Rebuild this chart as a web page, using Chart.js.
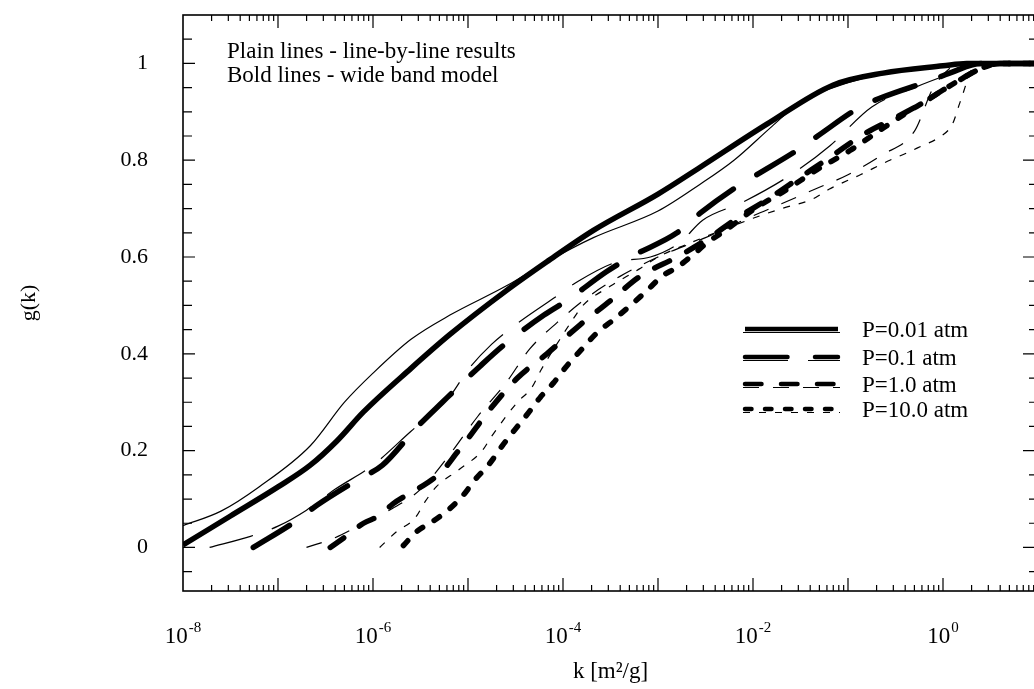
<!DOCTYPE html>
<html>
<head>
<meta charset="utf-8">
<script src="https://cdn.jsdelivr.net/npm/chart.js@4.4.0/dist/chart.umd.min.js"></script>
<style>
html, body { margin: 0; padding: 0; overflow: hidden; background: #fff; }
#wrap { width: 1040px; height: 689px; }
</style>
</head>
<body>
<div id="wrap"><canvas id="gk"></canvas></div>
<script>
// log10(k) and g(k)

// P=0.01 atm
var boldP001LogK = [-8, -7.5, -7, -6.66, -6.38, -6.1, -5.6, -5.19, -4.6, -4.17, -3.68, -3, -2.56, -1.85, -1.16, -0.63, 0, 0.25, 1];
var boldP001G = [0.005, 0.065, 0.125, 0.17, 0.22, 0.28, 0.37, 0.44, 0.53, 0.59, 0.655, 0.73, 0.785, 0.875, 0.955, 0.98, 0.995, 1.0, 1.0];
var thinP001LogK = [-8, -7.6, -7.2, -6.66, -6.3, -6, -5.6, -5.19, -4.6, -4.17, -3.68, -3, -2.56, -2.2, -1.8, -1.5, -1, -0.5, 0, 1];
var thinP001G = [0.045, 0.075, 0.125, 0.21, 0.3, 0.36, 0.43, 0.48, 0.54, 0.59, 0.64, 0.695, 0.75, 0.8, 0.87, 0.92, 0.96, 0.985, 0.995, 1.0];

// P=0.1 atm
var boldP01LogK = [-7.26, -6.8, -6.59, -6.16, -5.9, -5.53, -5.27, -4.87, -4.63, -4.2, -3.96, -3.54, -3.29, -2.8, -2.56, -2.21, -1.96, -1.54, -1.32, -0.87, -0.64, -0.1, 0.07, 0.4, 1];
var boldP01G = [0, 0.056, 0.087, 0.14, 0.17, 0.25, 0.3, 0.375, 0.417, 0.48, 0.51, 0.57, 0.6, 0.65, 0.69, 0.74, 0.77, 0.82, 0.85, 0.91, 0.93, 0.967, 0.98, 1.0, 1.0];
var thinP01LogK = [-7.72, -7.29, -7, -6.7, -6.4, -6, -5.6, -5.2, -5, -4.75, -4.5, -4.06, -3.84, -3.43, -3.08, -2.77, -2.53, -2.1, -1.6, -1.19, -0.75, -0.3, 0.1, 0.4, 1];
var thinP01G = [0, 0.023, 0.044, 0.077, 0.12, 0.17, 0.24, 0.31, 0.367, 0.42, 0.46, 0.52, 0.55, 0.59, 0.6, 0.63, 0.676, 0.714, 0.77, 0.83, 0.91, 0.95, 0.98, 1.0, 1.0];

// P=1.0 atm
var boldP1LogK = [-6.45, -6.27, -6.1, -5.93, -5.79, -5.63, -5.43, -5.27, -5.12, -5, -4.79, -4.48, -4.17, -3.82, -3.5, -3.19, -2.8, -2.48, -2.17, -1.84, -1.5, -1.16, -0.84, -0.48, -0.2, 0, 0.17, 0.35, 0.6, 1];
var boldP1G = [0, 0.025, 0.05, 0.066, 0.09, 0.11, 0.133, 0.158, 0.195, 0.225, 0.28, 0.35, 0.4, 0.46, 0.51, 0.56, 0.6, 0.637, 0.68, 0.72, 0.765, 0.81, 0.853, 0.89, 0.92, 0.945, 0.965, 0.985, 1.0, 1.0];
var thinP1LogK = [-6.7, -6.4, -6.1, -5.8, -5.5, -5.2, -4.9, -4.6, -4.35, -4.06, -3.72, -3.4, -3, -2.5, -2, -1.7, -1.35, -1, -0.65, -0.3, -0.1, 0.2, 1];
var thinP1G = [0, 0.02, 0.05, 0.08, 0.12, 0.19, 0.27, 0.34, 0.41, 0.465, 0.52, 0.56, 0.6, 0.64, 0.685, 0.71, 0.74, 0.77, 0.81, 0.86, 0.95, 1.0, 1.0];

// P=10.0 atm
var boldP10LogK = [-5.68, -5.54, -5.37, -5.21, -5.05, -4.93, -4.77, -4.64, -4.52, -4.38, -4.24, -4.1, -3.96, -3.8, -3.64, -3.47, -3.29, -3.12, -2.96, -2.79, -2.63, -2.48, -2.29, -1.98, -1.64, -1.33, -0.98, -0.64, -0.32, -0.2, 0, 0.17, 0.35, 0.6, 1];
var boldP10G = [0.004, 0.033, 0.054, 0.077, 0.108, 0.139, 0.174, 0.21, 0.24, 0.274, 0.31, 0.34, 0.375, 0.41, 0.444, 0.47, 0.5, 0.53, 0.56, 0.58, 0.605, 0.63, 0.655, 0.7, 0.74, 0.78, 0.82, 0.865, 0.906, 0.92, 0.945, 0.965, 0.985, 1.0, 1.0];
var thinP10LogK = [-5.93, -5.75, -5.56, -5.45, -5.33, -5.1, -4.85, -4.75, -4.48, -4.33, -4.23, -4, -3.9, -3.79, -3.5, -3.2, -3, -2.65, -2, -1.7, -1.37, -1.2, -0.87, -0.56, -0.38, -0.22, -0.06, 0.1, 0.18, 0.35, 1];
var thinP10G = [0, 0.033, 0.06, 0.095, 0.126, 0.16, 0.2, 0.23, 0.3, 0.33, 0.367, 0.44, 0.47, 0.5, 0.54, 0.575, 0.6, 0.63, 0.68, 0.7, 0.72, 0.74, 0.77, 0.8, 0.815, 0.83, 0.845, 0.875, 0.92, 1.0, 1.0];

var legendLabels = ['P=0.01 atm', 'P=0.1 atm', 'P=1.0 atm', 'P=10.0 atm'];
var xLabelExps = [-8, -6, -4, -2, 0];
var yLabelValues = [0, 0.2, 0.4, 0.6, 0.8, 1];
var noteLines = ['Plain lines - line-by-line results', 'Bold lines - wide band model'];

var FONT = "'Liberation Serif', 'Times New Roman', serif";

// line styles per pressure: bold (wide band) and plain (line-by-line)
var boldDash = [[], [42.5, 27.5], [16.5, 19.5], [6.5, 13.5]];
var thinDash = [[], [45, 20], [16, 14], [7, 9]];

function pts(logk, g) {
    return logk.map(function(e, i) { return { x: Math.pow(10, e), y: g[i] }; });
}

var boldData = [pts(boldP001LogK, boldP001G), pts(boldP01LogK, boldP01G), pts(boldP1LogK, boldP1G), pts(boldP10LogK, boldP10G)];
var thinData = [pts(thinP001LogK, thinP001G), pts(thinP01LogK, thinP01G), pts(thinP1LogK, thinP1G), pts(thinP10LogK, thinP10G)];

var datasets = [];
boldData.forEach(function(d, i) {
    datasets.push({
        label: legendLabels[i] + ' (wide band)',
        data: d,
        borderColor: '#000',
        borderWidth: 5.5,
        borderDash: boldDash[i],
        borderCapStyle: i === 0 ? 'butt' : 'round',
        pointRadius: 0,
        fill: false,
        cubicInterpolationMode: 'monotone'
    });
});
thinData.forEach(function(d, i) {
    datasets.push({
        label: legendLabels[i] + ' (line-by-line)',
        data: d,
        borderColor: '#000',
        borderWidth: 1.2,
        borderDash: thinDash[i],
        pointRadius: 0,
        fill: false,
        cubicInterpolationMode: 'monotone'
    });
});

function noPad(scale) {
    scale.paddingTop = 0;
    scale.paddingBottom = 0;
    scale.paddingLeft = 0;
    scale.paddingRight = 0;
}

var framePlugin = {
    id: 'frame',
    afterDraw: function(chart) {
        var ctx = chart.ctx, a = chart.chartArea;
        var xs = chart.scales.x, ys = chart.scales.y;
        ctx.save();
        ctx.strokeStyle = '#000';
        ctx.fillStyle = '#000';
        ctx.lineWidth = 1.6;
        ctx.strokeRect(a.left, a.top, a.right - a.left, a.bottom - a.top);

        // inward ticks
        ctx.lineWidth = 1.2;
        ctx.beginPath();
        for (var e = -8; e <= 0; e++) {
            for (var m = 1; m <= 9; m++) {
                if (e === -8 && m === 1) continue;
                var px = xs.getPixelForValue(m * Math.pow(10, e));
                var len = m === 1 ? 13 : 6;
                ctx.moveTo(px, a.bottom); ctx.lineTo(px, a.bottom - len);
                ctx.moveTo(px, a.top); ctx.lineTo(px, a.top + len);
            }
        }
        for (var i = -1; i <= 21; i++) {
            var py = ys.getPixelForValue(i * 0.05);
            var major = i % 4 === 0;
            ctx.moveTo(a.left, py); ctx.lineTo(a.left + (major ? 12 : 9), py);
            ctx.moveTo(a.right, py); ctx.lineTo(a.right - (major ? 15 : 9), py);
        }
        ctx.stroke();

        // x tick labels 10^n
        xLabelExps.forEach(function(n) {
            var px = xs.getPixelForValue(Math.pow(10, n));
            ctx.font = '23px ' + FONT;
            var w1 = ctx.measureText('10').width;
            ctx.font = '15px ' + FONT;
            var sup = String(n);
            var w2 = ctx.measureText(sup).width;
            var x0 = px - (w1 + w2 + 1) / 2;
            ctx.textAlign = 'left';
            ctx.textBaseline = 'alphabetic';
            ctx.font = '23px ' + FONT;
            ctx.fillText('10', x0, 643);
            ctx.font = '15px ' + FONT;
            ctx.fillText(sup, x0 + w1 + 1, 632);
        });

        // note text
        ctx.font = '23px ' + FONT;
        ctx.textAlign = 'left';
        ctx.textBaseline = 'alphabetic';
        ctx.fillText(noteLines[0], 227, 58);
        ctx.fillText(noteLines[1], 227, 82);

        // legend: bold sample with plain sample under it
        var rows = [329, 357, 384, 409];
        legendLabels.forEach(function(lab, k) {
            var y = rows[k];
            ctx.strokeStyle = '#000';
            ctx.lineWidth = 4.5;
            ctx.lineCap = k === 0 ? 'butt' : 'round';
            ctx.setLineDash(boldDash[k]);
            ctx.beginPath(); ctx.moveTo(745, y); ctx.lineTo(838, y); ctx.stroke();
            ctx.lineWidth = 1.2;
            ctx.lineCap = 'butt';
            ctx.setLineDash(thinDash[k]);
            ctx.beginPath(); ctx.moveTo(743, y + 3.5); ctx.lineTo(840, y + 3.5); ctx.stroke();
            ctx.setLineDash([]);
            ctx.font = '23px ' + FONT;
            ctx.fillText(lab, 862, y + 8);
        });
        ctx.restore();
    }
};

Chart.defaults.font.family = FONT;
Chart.defaults.color = '#000';

var chart = new Chart(document.getElementById('gk'), {
    type: 'line',
    data: { datasets: datasets },
    options: {
        responsive: true,
        maintainAspectRatio: false,
        animation: false,
        layout: { padding: { top: 15, right: 2, left: 0, bottom: 0 } },
        plugins: { legend: { display: false }, tooltip: { enabled: false } },
        scales: {
            x: {
                type: 'logarithmic',
                min: 1e-8,
                max: 10,
                grid: { display: false, drawTicks: false },
                border: { display: false },
                ticks: { display: false },
                title: { display: true, text: 'k [m\u00b2/g]', font: { size: 23 }, padding: { top: 0, bottom: 3 } },
                afterFit: function(scale) { scale.height = 98; noPad(scale); }
            },
            y: {
                type: 'linear',
                min: -0.09,
                max: 1.1,
                grid: { display: false, drawTicks: false },
                border: { display: false },
                ticks: {
                    stepSize: 0.05,
                    autoSkip: false,
                    padding: 35,
                    font: { size: 22 },
                    callback: function(v) {
                        for (var i = 0; i < yLabelValues.length; i++) {
                            if (Math.abs(v - yLabelValues[i]) < 1e-6) return String(yLabelValues[i]);
                        }
                        return '';
                    }
                },
                title: { display: true, text: 'g(k)', font: { size: 22 }, padding: { top: 16, bottom: 0 } },
                afterFit: function(scale) { scale.width = 183; noPad(scale); }
            }
        }
    },
    plugins: [framePlugin]
});
</script>
</body>
</html>
